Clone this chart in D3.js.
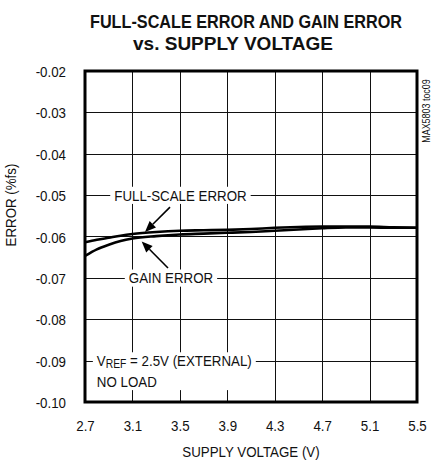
<!DOCTYPE html>
<html>
<head>
<meta charset="utf-8">
<script src="https://cdn.jsdelivr.net/npm/d3@7"></script>
<style>
body { margin:0; background:#fff; }
text { font-family:'Liberation Sans',Arial,sans-serif; fill:#111; }
</style>
</head>
<body>
<div id="chart"></div>
<script>
// supply voltage (V)
var volts = [2.7, 2.8, 2.9, 3.0, 3.1, 3.3, 3.5, 3.7, 3.9, 4.1, 4.3, 4.5, 4.7, 4.9, 5.1, 5.3, 5.5];
// error (%fs)
var fullScale = [-0.0614, -0.0608, -0.0603, -0.0598, -0.0594, -0.0589, -0.0586, -0.0585, -0.0584, -0.0582, -0.0579, -0.0577, -0.0576, -0.0576, -0.0576, -0.0578, -0.0579];
var gainErr   = [-0.0647, -0.0631, -0.0620, -0.0611, -0.0605, -0.0599, -0.0595, -0.0593, -0.0591, -0.0589, -0.0586, -0.0583, -0.0580, -0.0578, -0.0578, -0.0579, -0.0579];

var xTicks = [2.7, 3.1, 3.5, 3.9, 4.3, 4.7, 5.1, 5.5];
var yTicks = [-0.02, -0.03, -0.04, -0.05, -0.06, -0.07, -0.08, -0.09, -0.10];

var W = 446, H = 461;
var m = {left:85, top:71, right:29, bottom:59};
var w = W - m.left - m.right, h = H - m.top - m.bottom;
var K = 0.86; // horizontal squeeze, condensed look

var svg = d3.select("#chart").append("svg")
    .attr("width", W).attr("height", H);

var xs = d3.scaleLinear().domain([2.7, 5.5]).range([0, w]);
var ys = d3.scaleLinear().domain([-0.10, -0.02]).range([h, 0]);

var g = svg.append("g").attr("transform", "translate(" + m.left + "," + m.top + ")");

// grid as one path
var gp = d3.path();
yTicks.forEach(function(d){ var p = Math.round(ys(d)) + 0.5; gp.moveTo(0, p); gp.lineTo(w, p); });
xTicks.forEach(function(d){ var p = Math.round(xs(d)) + 0.5; gp.moveTo(p, 0); gp.lineTo(p, h); });
g.append("path").attr("class","gridpath").attr("d", gp.toString())
  .attr("fill","none").attr("stroke","#111").attr("stroke-width",1)
  .attr("shape-rendering","crispEdges");

// tick labels
var yAx = g.append("g")
  .call(d3.axisLeft(ys).tickValues(yTicks).tickSize(0).tickPadding(19)
    .tickFormat(function(d){ return d3.format(".2f")(d).replace("\u2212","-"); }));
yAx.select(".domain").remove();
yAx.selectAll("text").style("font-size","15.5px").style("font-family","'Liberation Sans',Arial,sans-serif")
  .attr("dy","0.36em")
  .attr("x", -19 / K).attr("transform","scale(" + K + ",1)");

var xAx = g.append("g").attr("transform","translate(0," + h + ")")
  .call(d3.axisBottom(xs).tickValues(xTicks).tickSize(0).tickPadding(18).tickFormat(d3.format(".1f")));
xAx.select(".domain").remove();
xAx.selectAll("text").style("font-size","15.5px").style("font-family","'Liberation Sans',Arial,sans-serif")
  .attr("transform","scale(" + K + ",1)");

// white boxes under the annotation texts
var boxes = g.append("g");

function note(xv, yv, anchor, str){
  var t = g.append("g")
    .attr("transform","translate(" + xs(xv) + "," + ys(yv) + ") scale(" + K + ",1)")
    .append("text").attr("dy","0.36em").attr("text-anchor", anchor)
    .style("font-size","15.5px");
  if (str) t.text(str);
  return t;
}
var fse = note(3.505, -0.05, "middle", "FULL-SCALE ERROR");
var gain = note(3.425, -0.07, "middle", "GAIN ERROR");
var vref = note(2.80, -0.09, "start");
vref.append("tspan").text("V");
vref.append("tspan").text("REF").style("font-size","12px").attr("dy","2");
vref.append("tspan").text(" = 2.5V (EXTERNAL)").attr("dy","-2");
var noload = note(2.80, -0.095, "start", "NO LOAD");

function pad(t){
  var b = t.node().getBBox();
  var tr = t.node().parentNode.transform.baseVal.consolidate().matrix;
  return {x0: tr.e + b.x * K, x1: tr.e + (b.x + b.width) * K, y0: tr.f + b.y, y1: tr.f + b.y + b.height};
}
[[fse],[gain],[vref, noload]].forEach(function(list){
  var bs = list.map(pad);
  var x0 = d3.min(bs, function(b){ return b.x0; }) - 4,
      x1 = d3.max(bs, function(b){ return b.x1; }) + 4,
      y0 = d3.min(bs, function(b){ return b.y0; }),
      y1 = d3.max(bs, function(b){ return b.y1; });
  boxes.append("rect").attr("x", x0).attr("y", y0).attr("width", x1 - x0).attr("height", y1 - y0)
    .attr("fill","#fff");
});

// curves
var lineGen = d3.line()
  .x(function(d){ return xs(d[0]); })
  .y(function(d){ return ys(d[1]); })
  .curve(d3.curveMonotoneX);

g.selectAll(".curve").data([fullScale, gainErr]).enter().append("path")
  .attr("class","curve")
  .attr("d", function(s){ return lineGen(volts.map(function(v,i){ return [v, s[i]]; })); })
  .attr("fill","none").attr("stroke","#000").attr("stroke-width",2.6);

// arrows
var arrows = [
  {x1:3.417, y1:-0.0529, x2:3.206, y2:-0.0589},
  {x1:3.40, y1:-0.0676, x2:3.178, y2:-0.0612}
];
arrows.forEach(function(d){
  var ax = xs(d.x1), ay = ys(d.y1), tx = xs(d.x2), ty = ys(d.y2);
  var a = Math.atan2(ty - ay, tx - ax), L = 11, hw = 4.5;
  var bx = tx - L * Math.cos(a), by = ty - L * Math.sin(a);
  g.append("path").attr("d", "M" + ax + "," + ay + "L" + bx + "," + by)
    .attr("fill","none").attr("stroke","#000").attr("stroke-width",1.6);
  g.append("path")
    .attr("d", "M" + tx + "," + ty +
      "L" + (bx + hw * Math.sin(a)) + "," + (by - hw * Math.cos(a)) +
      "L" + (bx - hw * Math.sin(a)) + "," + (by + hw * Math.cos(a)) + "Z")
    .attr("fill","#000");
});

// frame
g.append("rect")
  .attr("width", w).attr("height", h)
  .attr("fill","none").attr("stroke","#000").attr("stroke-width",3);

// titles
svg.append("text").attr("x",246).attr("y",28).attr("text-anchor","middle")
  .style("font-size","18px").style("font-weight","bold")
  .attr("textLength",312).attr("lengthAdjust","spacingAndGlyphs")
  .text("FULL-SCALE ERROR AND GAIN ERROR");
svg.append("text").attr("x",233).attr("y",50).attr("text-anchor","middle")
  .style("font-size","18px").style("font-weight","bold")
  .attr("textLength",200).attr("lengthAdjust","spacingAndGlyphs")
  .text("vs. SUPPLY VOLTAGE");

svg.append("text").attr("transform","translate(" + (m.left + w/2) + ",457) scale(" + K + ",1)")
  .attr("text-anchor","middle")
  .style("font-size","15.5px").text("SUPPLY VOLTAGE (V)");

svg.append("text").attr("transform","translate(16,205) rotate(-90) scale(" + K + ",1)")
  .attr("text-anchor","middle")
  .style("font-size","15.5px").text("ERROR (%fs)");

svg.append("text").attr("transform","translate(430,111) rotate(-90) scale(0.85,1)")
  .attr("text-anchor","middle")
  .style("font-size","10.5px").text("MAX5803 toc09");
</script>
</body>
</html>
